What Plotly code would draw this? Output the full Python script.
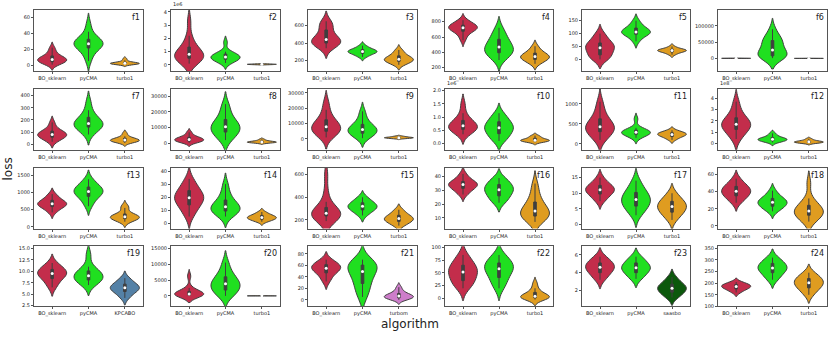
import numpy as np
import plotly.graph_objects as go
from plotly.subplots import make_subplots

# algorithm names per panel
algos_std = ['BO_sklearn', 'pyCMA', 'turbo1']
algos_f19 = ['BO_sklearn', 'pyCMA', 'KPCABO']
algos_f21 = ['BO_sklearn', 'pyCMA', 'turbom']
algos_f23 = ['BO_sklearn', 'pyCMA', 'saasbo']

# loss samples per function (BO_sklearn, pyCMA, third algorithm)
f1 = [[0.5, 2, 3, 4, 5, 6, 7, 7, 8, 9, 10, 12, 14, 18, 22],
      [5, 12, 18, 21, 23, 25, 26, 27, 28, 29, 31, 33, 36, 42, 52],
      [0.5, 1, 1.2, 1.5, 1.8, 2, 2, 2.2, 2.5, 3, 3.5, 4, 6, 8]]
f2 = [[0.1, 0.3, 0.4, 0.5, 0.55, 0.6, 0.7, 0.8, 0.9, 1.0, 1.2, 1.4, 1.7, 2.2, 3.3],
      [0.15, 0.25, 0.35, 0.45, 0.5, 0.55, 0.6, 0.65, 0.7, 0.8, 0.9, 1.0, 1.7],
      [0.02, 0.03, 0.04, 0.05, 0.05, 0.06, 0.07, 0.08]]
f3 = [[340, 370, 390, 400, 410, 420, 430, 450, 470, 500, 550, 600, 620, 650],
      [240, 260, 275, 285, 295, 300, 305, 310, 320, 330, 345, 370],
      [150, 170, 185, 195, 205, 210, 220, 230, 245, 260, 290, 320]]
f4 = [[560, 620, 660, 680, 700, 710, 720, 730, 740, 750, 770, 790, 820],
      [300, 350, 380, 400, 420, 440, 470, 490, 520, 560, 600, 650, 720],
      [250, 280, 300, 315, 330, 340, 350, 360, 380, 400, 430, 480]]
f5 = [[0, 5, 10, 15, 25, 35, 40, 45, 50, 55, 60, 65, 75, 90, 100],
      [70, 85, 95, 100, 103, 105, 108, 112, 118, 125, 135, 150],
      [18, 24, 28, 30, 32, 34, 35, 36, 38, 40, 43, 50]]
f6 = [[100, 200, 300, 400, 500, 700, 900],
      [1000, 3000, 5000, 8000, 12000, 18000, 22000, 30000, 40000, 50000, 55000, 60000, 70000, 90000],
      [50, 100, 200, 300, 500]]
f7 = [[20, 40, 50, 60, 70, 75, 80, 85, 95, 105, 115, 140, 180],
      [80, 110, 130, 145, 155, 165, 170, 180, 195, 215, 240, 280, 350],
      [10, 18, 22, 26, 30, 33, 36, 40, 45, 52, 65, 90]]
f8 = [[300, 800, 1200, 1600, 2000, 2300, 2600, 3000, 3500, 4000, 5000, 7000],
      [2000, 4000, 6000, 7500, 8500, 9500, 10500, 11500, 13000, 14500, 17000, 21000, 25000],
      [100, 300, 500, 600, 700, 800, 900, 1100, 1400, 1800, 2500]]
f9 = [[1000, 2500, 4000, 5000, 6000, 7000, 7500, 8500, 9500, 11000, 12500, 15000, 19000, 24000],
      [500, 2000, 3000, 4000, 4800, 5500, 6200, 7000, 8000, 9000, 11000, 14000, 18000],
      [200, 400, 600, 700, 800, 900, 1000, 1200, 1500, 1800]]
f10 = [[0.35, 0.45, 0.5, 0.55, 0.6, 0.63, 0.67, 0.72, 0.78, 0.85, 0.95, 1.15, 1.5],
       [0.1, 0.2, 0.3, 0.4, 0.48, 0.55, 0.6, 0.65, 0.72, 0.8, 0.9, 1.0, 1.15],
       [0.05, 0.08, 0.1, 0.11, 0.12, 0.14, 0.16, 0.2, 0.25, 0.3]]
f11 = [[100, 200, 260, 320, 360, 400, 430, 470, 530, 600, 700, 850, 1050],
       [150, 200, 230, 250, 270, 280, 295, 310, 330, 360, 400, 620],
       [100, 150, 180, 200, 220, 235, 250, 265, 280, 300, 340]]
f12 = [[0.4, 0.8, 1.1, 1.3, 1.5, 1.6, 1.7, 1.85, 2.0, 2.2, 2.5, 3.0, 3.7],
       [0.1, 0.2, 0.25, 0.3, 0.35, 0.38, 0.42, 0.48, 0.55, 0.7, 0.9],
       [0.03, 0.06, 0.09, 0.12, 0.14, 0.16, 0.19, 0.23, 0.3, 0.42]]
f13 = [[420, 500, 560, 600, 630, 650, 670, 690, 720, 760, 800, 870, 950],
       [600, 750, 850, 920, 970, 1010, 1040, 1080, 1130, 1180, 1260, 1380],
       [150, 200, 230, 250, 270, 285, 300, 320, 350, 400, 550, 600]]
f14 = [[5, 9, 12, 14, 16, 18, 19, 20, 21, 23, 25, 27, 30, 34],
       [5, 7, 8.5, 9.5, 10.5, 11.5, 12.5, 13.5, 15, 17, 20, 24, 30],
       [1, 2, 2.8, 3.3, 3.8, 4.3, 4.8, 5.3, 6, 7, 8.5]]
f15 = [[190, 210, 225, 235, 245, 250, 255, 262, 270, 285, 310, 360, 450, 600],
       [240, 270, 285, 300, 310, 320, 330, 340, 355, 375, 400],
       [150, 170, 185, 195, 205, 212, 220, 230, 245, 265, 290]]
f16 = [[27, 29, 31, 32, 33, 34, 34.5, 35, 36, 37, 39, 42],
       [21, 23, 25, 27, 28.5, 30, 31, 32, 33.5, 35, 37, 39],
       [7, 9, 10, 11, 12, 13, 14, 15, 16, 18, 20, 22, 25, 30, 35]]
f17 = [[7.5, 8.5, 9.5, 10, 10.5, 11, 11.3, 11.7, 12.2, 12.8, 13.5, 15],
       [3, 4.5, 5.5, 6.3, 7, 7.7, 8.3, 9, 9.8, 10.7, 12, 14],
       [1.5, 3, 3.8, 4.5, 5.2, 5.8, 6.3, 6.9, 7.6, 8.5, 10]]
f18 = [[27, 31, 34, 36, 38, 40, 41, 43, 45, 47, 50, 55],
       [17, 20, 22, 24, 25.5, 27, 28, 29.5, 31, 33, 36, 41],
       [5, 8, 11, 13, 15, 16, 17.5, 19, 21, 23, 27, 32, 50]]
f19 = [[6.5, 7.5, 8.3, 8.8, 9.2, 9.5, 9.8, 10.1, 10.5, 11, 11.8],
       [7, 7.6, 8, 8.4, 8.7, 9, 9.3, 9.7, 10.2, 11, 13.6],
       [4.2, 5, 5.5, 5.9, 6.2, 6.4, 6.6, 6.9, 7.3, 7.8, 8.5]]
f20 = [[0, 100, 200, 300, 400, 500, 700, 900, 1200, 1600, 2500, 6200],
       [0, 800, 1500, 2200, 3000, 3600, 4000, 4600, 5500, 6500, 8000, 10500],
       [5, 10, 15, 20, 30, 40]]
f21 = [[32, 40, 46, 50, 53, 55, 57, 59, 62, 65, 70],
       [5, 15, 25, 32, 40, 47, 52, 56, 59, 62, 65, 70],
       [0, 2, 3, 4, 5, 6, 7, 8, 10, 12, 16, 22]]
f22 = [[20, 28, 32, 38, 45, 50, 54, 57, 62, 68, 75, 85],
       [20, 30, 37, 45, 52, 56, 60, 63, 67, 72, 78, 85],
       [-2, 0, 1, 2, 3, 4, 5, 7, 10, 14, 20, 30]]
f23 = [[3.2, 3.7, 4.0, 4.3, 4.5, 4.7, 4.9, 5.1, 5.4, 5.8],
       [3.3, 3.7, 4.0, 4.3, 4.5, 4.6, 4.8, 5.1, 5.4, 5.8],
       [1.2, 1.5, 1.8, 2.0, 2.2, 2.3, 2.5, 2.7, 3.0, 3.5]]
f24 = [[160, 170, 175, 180, 184, 187, 190, 194, 198, 205],
       [215, 230, 245, 255, 262, 268, 275, 285, 295, 310],
       [150, 170, 180, 190, 198, 205, 212, 220, 230, 245]]

panels = [f1, f2, f3, f4, f5, f6, f7, f8, f9, f10, f11, f12,
          f13, f14, f15, f16, f17, f18, f19, f20, f21, f22, f23, f24]
panel_algos = [algos_std] * 24
panel_algos[18] = algos_f19
panel_algos[20] = algos_f21
panel_algos[22] = algos_f23

# axis ranges and ticks
y_ranges = [[-7.5, 69.6], [-0.45, 4.15], [79, 781], [157, 954], [-45, 192], [-38500, 149400],
            [-46, 457], [-4200, 34840], [-7070, 32760], [-0.235, 2.075], [-147, 1376], [-0.55, 4.84],
            [-49, 1720], [-4.3, 42.8], [124, 662], [2.1, 46.7], [-1.26, 18.2], [-3.1, 68],
            [2.35, 15.43], [-3320, 15620], [-11.5, 93.2], [-15.4, 101.9], [0.19, 6.97], [100, 358.5]]
y_dticks = [20, 1, 200, 200, 50, 50000, 100, 10000, 10000, 0.5, 500, 1,
            500, 10, 200, 10, 5, 20, 2.5, 5000, 20, 25, 2, 50]
offset_text = {1: '1e6', 9: '1e6', 11: '1e8'}
one_decimal = {9, 18}

colors = {'BO_sklearn': '#C32D4B', 'pyCMA': '#20DF20', 'turbo1': '#DF9C20',
          'KPCABO': '#5481A6', 'turbom': '#CD7DCA', 'saasbo': '#0C580C'}
edge = '#3f3f3f'

col_left = [34, 171, 308, 445, 582, 718]
col_right = [143, 280, 417, 553, 690, 827]
row_top = [8, 88, 168, 248]
row_bottom = [70, 150, 230, 309]
W, H = 831, 338

fig = make_subplots(rows=4, cols=6)

for i, data in enumerate(panels):
    r, c = i // 6 + 1, i % 6 + 1
    for name, vals in zip(panel_algos[i], data):
        v = np.array(vals, dtype=float)
        bw = v.std(ddof=1) * len(v) ** (-1 / 5)  # scott's rule like seaborn
        fig.add_trace(go.Violin(
            x=[name] * len(v), y=v,
            fillcolor=colors[name],
            line=dict(color=edge, width=1),
            opacity=1,
            width=0.8,
            bandwidth=bw,
            spanmode='soft',
            points=False,
            box=dict(visible=True, width=0.09, fillcolor=edge, line=dict(color=edge, width=1)),
            meanline=dict(visible=False),
            hoverinfo='skip',
            showlegend=False,
        ), row=r, col=c)
        fig.add_trace(go.Scatter(
            x=[name], y=[np.median(v)], mode='markers',
            marker=dict(color='white', size=3),
            showlegend=False, hoverinfo='skip',
        ), row=r, col=c)

    idx = '' if i == 0 else str(i + 1)
    fig.layout['xaxis' + idx].update(
        domain=[col_left[c - 1] / W, col_right[c - 1] / W],
        range=[-0.5, 2.5], showline=True, mirror=True, linecolor='#555', linewidth=1,
        ticks='outside', ticklen=2, tickcolor='#555', showgrid=False, zeroline=False,
        tickfont=dict(size=5, color='#222'))
    fig.layout['yaxis' + idx].update(
        domain=[1 - row_bottom[r - 1] / H, 1 - row_top[r - 1] / H],
        range=y_ranges[i], dtick=y_dticks[i], showline=True, mirror=True,
        tickformat='.1f' if i in one_decimal else ('d' if y_dticks[i] >= 1 else '.1f'),
        linecolor='#555', linewidth=1, ticks='outside', ticklen=2, tickcolor='#555',
        showgrid=False, zeroline=False, tickfont=dict(size=5, color='#222'))
    fig.add_annotation(text='f%d' % (i + 1), xref='paper', yref='paper',
                       x=(col_right[c - 1] - 1) / W, y=1 - (row_top[r - 1] + 1) / H,
                       xanchor='right', yanchor='top', showarrow=False,
                       font=dict(size=8, color='#222'))
    if i in offset_text:
        fig.add_annotation(text=offset_text[i], xref='paper', yref='paper',
                           x=col_left[c - 1] / W, y=1 - (row_top[r - 1] - 1) / H,
                           xanchor='left', yanchor='bottom', showarrow=False,
                           font=dict(size=5, color='#222'))

fig.add_annotation(text='loss', xref='paper', yref='paper', x=8 / W, y=1 - 170 / H,
                   xanchor='center', yanchor='middle',
                   textangle=-90, showarrow=False, font=dict(size=12, color='#222'))
fig.add_annotation(text='algorithm', xref='paper', yref='paper', x=410 / W, y=1 - 327 / H,
                   xanchor='center', yanchor='middle',
                   showarrow=False, font=dict(size=12, color='#222'))

fig.update_layout(
    width=W, height=H,
    margin=dict(l=0, r=0, t=0, b=0),
    plot_bgcolor='white', paper_bgcolor='white',
    font=dict(family='DejaVu Sans'),
    violingap=0, violinmode='overlay',
)

fig.write_html("out.html", config={'displayModeBar': False},
               post_script="document.body.style.margin='0px';")
